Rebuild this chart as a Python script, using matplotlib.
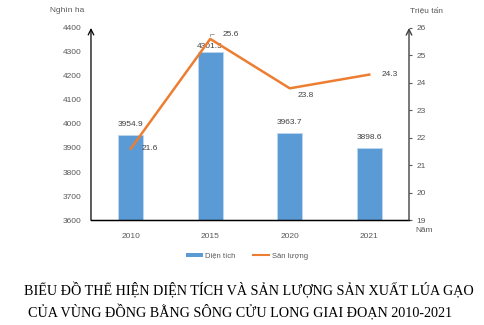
import matplotlib
matplotlib.use('Agg')
import matplotlib.pyplot as plt
from matplotlib.patches import Patch
from matplotlib.lines import Line2D
import numpy as np

plt.rcParams['font.family'] = ['Liberation Sans', 'DejaVu Sans']

# số liệu lúa gạo ĐBSCL
years = ['2010', '2015', '2020', '2021']
dien_tich = [3954.9, 4301.5, 3963.7, 3898.6]   # nghìn ha
san_luong = [21.6, 25.6, 23.8, 24.3]           # triệu tấn

bar_color = '#5B9BD5'
line_color = '#ED7D31'
tick_color = '#595959'
fs = 6

fig = plt.figure(figsize=(4.85, 3.25), dpi=100)
ax = fig.add_axes([0.1876, 0.323, 0.6557, 0.591])
ax2 = ax.twinx()

x = np.arange(len(years))
ax.bar(x, dien_tich, width=0.31, color=bar_color, edgecolor='#BDD7EE', linewidth=0.6, zorder=2)
ax.set_ylim(3600, 4400)
ax.set_yticks(np.arange(3600, 4401, 100))
ax.set_xlim(-0.5, len(years) - 0.5)
ax.set_xticks(x)
ax.set_xticklabels(years)
ax.tick_params(axis='x', length=0, labelsize=fs, colors=tick_color, pad=9)
ax.tick_params(axis='y', length=0, labelsize=fs, colors=tick_color, pad=7)

ax2.plot(x, san_luong, color=line_color, linewidth=1.8, zorder=3)
ax2.set_ylim(19, 26)
ax2.set_yticks(np.arange(19, 27, 1))
ax2.tick_params(axis='y', length=2.5, width=0.8, labelsize=fs, colors=tick_color, pad=3)

for a in (ax, ax2):
    a.spines['top'].set_visible(False)
    a.spines['left'].set_visible(False)
    a.spines['right'].set_visible(False)
ax.spines['bottom'].set_color('black')
ax.spines['bottom'].set_linewidth(1.0)

# trục có mũi tên
ax.annotate('', xy=(0, 1.0), xytext=(0, 0), xycoords='axes fraction',
            arrowprops=dict(arrowstyle='->', color='black', lw=0.9, shrinkA=0, shrinkB=0))
ax2.annotate('', xy=(1, 1.0), xytext=(1, 0), xycoords='axes fraction',
             arrowprops=dict(arrowstyle='->', color='#404040', lw=1.0, shrinkA=0, shrinkB=0))

# nhãn giá trị cột
bar_offsets = [5, 1.5, 5, 5]
for xi, v, off in zip(x, dien_tich, bar_offsets):
    ax.annotate(f'{v:.1f}', xy=(xi, v), xytext=(0, off), textcoords='offset points',
                ha='center', va='bottom', fontsize=fs, color='#404040')

# nhãn giá trị đường
line_offsets = [(8, 0), (9, 3.5), (6, -5), (9, 0)]
for xi, v, (dx, dy) in zip(x, san_luong, line_offsets):
    ax2.annotate(f'{v:.1f}', xy=(xi, v), xytext=(dx, dy), textcoords='offset points',
                 ha='left', va='center', fontsize=fs, color='#404040')
ax2.annotate('', xy=(1.0, 25.6), xytext=(1.05, 25.78), xycoords='data',
             arrowprops=dict(arrowstyle='-', color='#7F7F7F', lw=0.5,
                             connectionstyle='angle,angleA=0,angleB=90', shrinkA=0, shrinkB=2))

fig.text(84 / 485, 1 - 11 / 325, 'Nghìn ha', ha='right', va='center', fontsize=fs, color=tick_color)
fig.text(410 / 485, 1 - 11 / 325, 'Triệu tấn', ha='left', va='center', fontsize=fs, color=tick_color)
fig.text(415 / 485, 1 - 230 / 325, 'Năm', ha='left', va='center', fontsize=fs, color=tick_color)

handles = [Patch(facecolor=bar_color, edgecolor='none'),
           Line2D([0], [0], color=line_color, linewidth=1.5)]
fig.legend(handles, ['Diện tích', 'Sản lượng'], loc='center', bbox_to_anchor=(247 / 485, 1 - 256 / 325),
           ncol=2, frameon=False, fontsize=5.5, labelcolor=tick_color, handlelength=2.2,
           handleheight=0.5, columnspacing=2.2, handletextpad=0.3)

title_font = dict(family='Liberation Serif', fontsize=10.2, color='black', ha='center', va='center')
fig.text(249 / 485, 1 - 290 / 325, 'BIỂU ĐỒ THỂ HIỆN DIỆN TÍCH VÀ SẢN LƯỢNG SẢN XUẤT LÚA GẠO', **title_font)
fig.text(240 / 485, 1 - 312 / 325, 'CỦA VÙNG ĐỒNG BẰNG SÔNG CỬU LONG GIAI ĐOẠN 2010-2021', **title_font)

fig.savefig('out.png', dpi=100)
